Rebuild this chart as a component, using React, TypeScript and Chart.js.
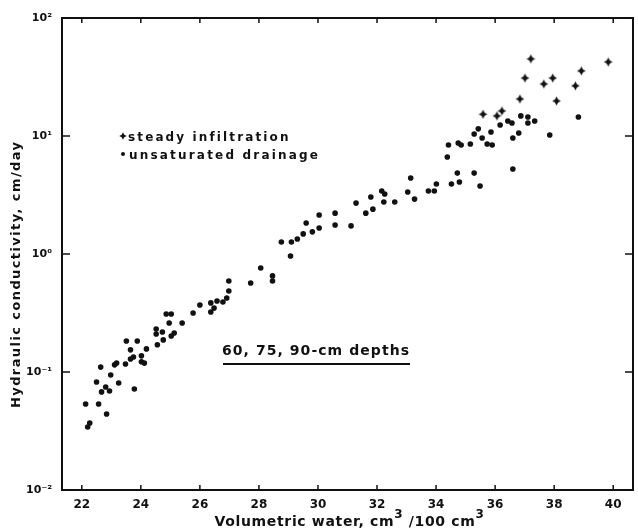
import { useEffect, useRef } from "react";
import { Chart, registerables } from "chart.js";

Chart.register(...registerables);

// ---- Data ----
const xTicks = [22, 24, 26, 28, 30, 32, 34, 36, 38, 40];
const yTicks = [0.01, 0.1, 1, 10, 100];
const yTickLabels = ["10⁻²", "10⁻¹", "10⁰", "10¹", "10²"];

const xTitle = ["Volumetric water, cm", "3", " /100 cm", "3"];
const yTitle = "Hydraulic conductivity, cm/day";
const legendSteady = "steady infiltration";
const legendDrain = "unsaturated drainage";
const depthLabel = "60, 75, 90-cm depths";

// steady infiltration (cross markers)
const steadyX = [37.21, 39.83, 38.92, 37.01, 37.95, 37.65, 38.72, 36.84, 38.08, 36.23, 36.06, 35.59];
const steadyY = [45.0, 42.4, 35.6, 31.0, 31.0, 27.6, 26.6, 20.6, 19.8, 16.3, 14.8, 15.3];

// unsaturated drainage (dot markers)
const drainX = [
  22.2, 22.27, 22.13, 22.57, 22.84, 22.5, 22.67, 22.81, 22.94, 22.98,
  22.64, 23.11, 23.18, 23.25, 23.78, 23.48, 23.65, 23.75, 23.51, 23.88,
  23.65, 24.02, 24.02, 24.12, 24.19, 24.52, 24.52, 24.73, 24.56, 24.76,
  24.86, 25.03, 24.96, 25.03, 25.13, 25.4, 25.77, 26.0, 26.37, 26.58,
  26.37, 26.48, 26.78, 26.91, 26.98, 26.98, 27.72, 28.06, 28.46, 28.46,
  28.76, 29.1, 29.07, 29.3, 29.5, 29.6, 29.81, 30.04, 30.04, 30.58,
  30.58, 31.12, 31.29, 31.62, 31.79, 31.86, 32.16, 32.26, 32.23, 32.6,
  33.04, 33.14, 33.27, 33.74, 33.94, 34.01, 34.52, 34.72, 34.79, 35.29,
  35.49, 34.38, 34.42, 34.75, 34.85, 35.16, 35.29, 35.43, 35.56, 35.73,
  35.9, 35.86, 36.17, 36.43, 36.57, 36.87, 37.11, 37.11, 37.34, 36.8,
  36.6, 37.85, 36.6, 38.82,
];
const drainY = [
  0.0342, 0.037, 0.0535, 0.0535, 0.0441, 0.0822, 0.0678, 0.0746, 0.0691, 0.0944,
  0.11, 0.115, 0.119, 0.0807, 0.0718, 0.117, 0.129, 0.134, 0.183, 0.183,
  0.154, 0.137, 0.122, 0.119, 0.157, 0.231, 0.21, 0.218, 0.17, 0.187,
  0.31, 0.31, 0.26, 0.202, 0.214, 0.26, 0.316, 0.37, 0.385, 0.4,
  0.322, 0.348, 0.392, 0.424, 0.59, 0.486, 0.568, 0.761, 0.652, 0.59,
  1.265, 1.265, 0.962, 1.34, 1.48, 1.83, 1.54, 2.14, 1.66, 2.22,
  1.76, 1.73, 2.7, 2.22, 3.04, 2.4, 3.42, 3.22, 2.76, 2.76,
  3.35, 4.4, 2.92, 3.42, 3.42, 3.92, 3.92, 4.85, 4.07, 4.85,
  3.77, 6.64, 8.39, 8.73, 8.39, 8.56, 10.4, 11.5, 9.61, 8.56,
  8.39, 10.8, 12.4, 13.4, 12.9, 14.8, 14.5, 12.9, 13.4, 10.6,
  9.61, 10.2, 5.25, 14.5,
];

const INK = "#111111";
const FONT = '"DejaVu Sans", sans-serif';

function makeStar(outer: number, inner: number): HTMLCanvasElement {
  const size = Math.ceil(outer * 2 + 2);
  const c = document.createElement("canvas");
  c.width = size;
  c.height = size;
  const g = c.getContext("2d")!;
  const cx = size / 2;
  const cy = size / 2;
  g.fillStyle = INK;
  g.beginPath();
  for (let i = 0; i < 8; i++) {
    const a = (i * Math.PI) / 4 - Math.PI / 2;
    const r = i % 2 === 0 ? outer : inner;
    const px = cx + Math.cos(a) * r;
    const py = cy + Math.sin(a) * r;
    if (i === 0) g.moveTo(px, py);
    else g.lineTo(px, py);
  }
  g.closePath();
  g.fill();
  return c;
}

function fitText(ctx: CanvasRenderingContext2D, text: string, x: number, y: number, width: number, font: string) {
  ctx.font = font;
  (ctx as any).letterSpacing = "0px";
  const w = ctx.measureText(text).width;
  const ls = (width - w) / Math.max(1, text.length - 1);
  (ctx as any).letterSpacing = ls + "px";
  ctx.textAlign = "left";
  ctx.fillText(text, x, y);
  (ctx as any).letterSpacing = "0px";
}

const decorPlugin = {
  id: "decor",
  beforeDraw(chart: any) {
    const ctx = chart.ctx as CanvasRenderingContext2D;
    ctx.save();
    ctx.fillStyle = "#ffffff";
    ctx.fillRect(0, 0, chart.width, chart.height);
    ctx.restore();
  },
  afterDraw(chart: any) {
    const ctx = chart.ctx as CanvasRenderingContext2D;
    const a = chart.chartArea;
    const xs = chart.scales.x;
    const ys = chart.scales.y;
    ctx.save();
    ctx.strokeStyle = INK;
    ctx.fillStyle = INK;
    // frame
    ctx.lineWidth = 2;
    ctx.strokeRect(a.left, a.top, a.right - a.left, a.bottom - a.top);
    // inward ticks
    ctx.lineWidth = 1.5;
    ctx.beginPath();
    xTicks.forEach((v) => {
      const px = xs.getPixelForValue(v);
      ctx.moveTo(px, a.bottom);
      ctx.lineTo(px, a.bottom - 5);
      ctx.moveTo(px, a.top);
      ctx.lineTo(px, a.top + 5);
    });
    yTicks.forEach((v) => {
      const py = ys.getPixelForValue(v);
      ctx.moveTo(a.left, py);
      ctx.lineTo(a.left + 8, py);
      ctx.moveTo(a.right, py);
      ctx.lineTo(a.right - 8, py);
    });
    ctx.stroke();

    // legend inside plot
    ctx.textBaseline = "alphabetic";
    const star = makeStar(3.8, 1.8);
    ctx.drawImage(star, 123 - star.width / 2, 136 - star.height / 2);
    fitText(ctx, legendSteady, 128, 141, 160, `bold 12px ${FONT}`);
    ctx.beginPath();
    ctx.arc(123, 154, 2, 0, Math.PI * 2);
    ctx.fill();
    fitText(ctx, legendDrain, 129, 158.5, 189, `bold 12px ${FONT}`);

    // depth annotation + underline
    fitText(ctx, depthLabel, 222, 355, 187, `bold 14px ${FONT}`);
    ctx.lineWidth = 2;
    ctx.beginPath();
    ctx.moveTo(223, 364);
    ctx.lineTo(410, 364);
    ctx.stroke();

    // x title with superscripts
    const mainFont = `bold 14px ${FONT}`;
    const supFont = `bold 12px ${FONT}`;
    (ctx as any).letterSpacing = "0px";
    let natural = 0;
    let nChars = 0;
    const widths: number[] = [];
    xTitle.forEach((seg, i) => {
      ctx.font = i % 2 === 1 ? supFont : mainFont;
      const w = ctx.measureText(seg).width;
      widths.push(w);
      natural += w;
      nChars += seg.length;
    });
    const targetW = 270;
    const ls = (targetW - natural) / nChars;
    let cx = (a.left + a.right) / 2 - targetW / 2 + 2;
    ctx.textAlign = "left";
    xTitle.forEach((seg, i) => {
      const sup = i % 2 === 1;
      ctx.font = sup ? supFont : mainFont;
      (ctx as any).letterSpacing = ls + "px";
      ctx.fillText(seg, cx, sup ? 518 : 526);
      cx += widths[i] + ls * seg.length;
    });
    (ctx as any).letterSpacing = "0px";

    // y title rotated
    ctx.save();
    ctx.translate(20, 275);
    ctx.rotate(-Math.PI / 2);
    fitText(ctx, yTitle, -133, 0, 266, `bold 13px ${FONT}`);
    ctx.restore();

    ctx.restore();
  },
};

export default function App() {
  const ref = useRef<HTMLCanvasElement>(null);
  useEffect(() => {
    const canvas = ref.current!;
    const star = makeStar(4.4, 2.2);
    const chart = new Chart(canvas, {
      type: "scatter",
      data: {
        datasets: [
          {
            label: legendDrain,
            data: drainX.map((x, i) => ({ x, y: drainY[i] })),
            pointStyle: "circle",
            pointRadius: 2.8,
            pointBackgroundColor: INK,
            pointBorderWidth: 0,
            borderColor: INK,
          },
          {
            label: legendSteady,
            data: steadyX.map((x, i) => ({ x, y: steadyY[i] })),
            pointStyle: star as any,
            pointRadius: 4,
            pointBackgroundColor: INK,
            borderColor: INK,
          },
        ],
      },
      options: {
        responsive: false,
        animation: false,
        devicePixelRatio: 1,
        layout: { padding: { top: 18, right: 1, left: 0, bottom: 0 } },
        plugins: {
          legend: { display: false },
          tooltip: { enabled: false },
          title: { display: false },
        },
        scales: {
          x: {
            type: "linear",
            min: 21.33,
            max: 40.67,
            grid: { display: false, drawTicks: false },
            border: { display: false },
            afterBuildTicks: (scale: any) => {
              scale.ticks = xTicks.map((v) => ({ value: v }));
            },
            afterFit: (scale: any) => {
              scale.height = 42;
            },
            ticks: {
              color: INK,
              padding: 8,
              maxRotation: 0,
              autoSkip: false,
              font: { family: FONT, size: 12, weight: "bold" },
              callback: (v: any) => String(v),
            },
          },
          y: {
            type: "logarithmic",
            min: 0.01,
            max: 100,
            grid: { display: false, drawTicks: false },
            border: { display: false },
            afterBuildTicks: (scale: any) => {
              scale.ticks = yTicks.map((v) => ({ value: v, major: true }));
            },
            afterFit: (scale: any) => {
              scale.width = 62;
            },
            ticks: {
              color: INK,
              padding: 10,
              autoSkip: false,
              font: { family: FONT, size: 11, weight: "bold" },
              callback: (_v: any, i: number) => yTickLabels[i],
            },
          },
        },
      },
      plugins: [decorPlugin],
    });
    return () => chart.destroy();
  }, []);
  return (
    <div style={{ position: "fixed", left: 0, top: 0, width: 638, height: 532, background: "#fff" }}>
      <canvas ref={ref} width={638} height={532} style={{ display: "block" }} />
    </div>
  );
}
